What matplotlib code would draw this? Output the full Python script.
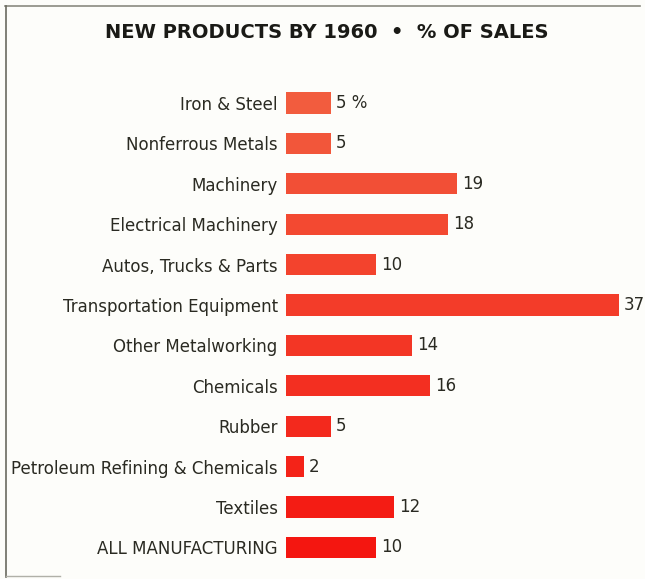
import numpy as np
import matplotlib
matplotlib.use('Agg')
import matplotlib.pyplot as plt
from matplotlib.lines import Line2D

## share of 1960 sales coming from new products, by industry

industries = ['Iron & Steel', 'Nonferrous Metals', 'Machinery', 'Electrical Machinery',
              'Autos, Trucks & Parts', 'Transportation Equipment', 'Other Metalworking',
              'Chemicals', 'Rubber', 'Petroleum Refining & Chemicals', 'Textiles',
              'ALL MANUFACTURING']
pct_sales = [5, 5, 19, 18, 10, 37, 14, 16, 5, 2, 12, 10]
value_labels = ['5 %', '5', '19', '18', '10', '37', '14', '16', '5', '2', '12', '10']

W, H = 645, 579
fig = plt.figure(figsize=(W / 100, H / 100), dpi=100)
fig.patch.set_facecolor('#fdfdfa')

# axes: bars start at x=286px, full figure height
x0 = 286
ax = fig.add_axes([x0 / W, 0, 1 - x0 / W, 1])
ax.set_facecolor('none')

px_per_unit = 9.0
ax.set_xlim(0, (W - x0) / px_per_unit)

# row 0 centered at y=103px, rows 40.4px apart
row_top, row_gap = 103, 40.4
ax.set_ylim((H - row_top) / row_gap, -row_top / row_gap)

y = np.arange(len(industries))

# orange-red at top fading to pure red at bottom
c_top = np.array([242, 92, 62]) / 255
c_bot = np.array([244, 22, 16]) / 255
colors = [tuple(c_top + (c_bot - c_top) * t) for t in np.linspace(0, 1, len(industries))]

ax.barh(y, pct_sales, height=0.52, color=colors, edgecolor='none')

for yi, v, lab in zip(y, pct_sales, value_labels):
    ax.text(v + 0.55, yi, lab, va='center', ha='left', fontsize=12, color='#2a2a22')

ax.set_yticks(y)
ax.set_yticklabels(industries, fontsize=12, color='#2a2a22')
ax.tick_params(axis='y', length=0, pad=6)
ax.tick_params(axis='x', bottom=False, labelbottom=False)
for s in ax.spines.values():
    s.set_visible(False)

fig.text(327 / W, 1 - 33 / H, 'NEW PRODUCTS BY 1960  •  % OF SALES',
         ha='center', va='center', fontsize=14, fontweight='bold', color='#1a1a16')

# frame lines along the top and left edge
fig.add_artist(Line2D([5 / W, 640 / W], [1 - 6 / H, 1 - 6 / H], color='#8a8a80', lw=1.2))
fig.add_artist(Line2D([6 / W, 6 / W], [1 - 6 / H, 2 / H], color='#6a6a60', lw=1.2))
fig.add_artist(Line2D([6 / W, 60 / W], [3 / H, 3 / H], color='#b0b0a8', lw=1.0))

plt.savefig('out.png', dpi=100, facecolor=fig.get_facecolor())
